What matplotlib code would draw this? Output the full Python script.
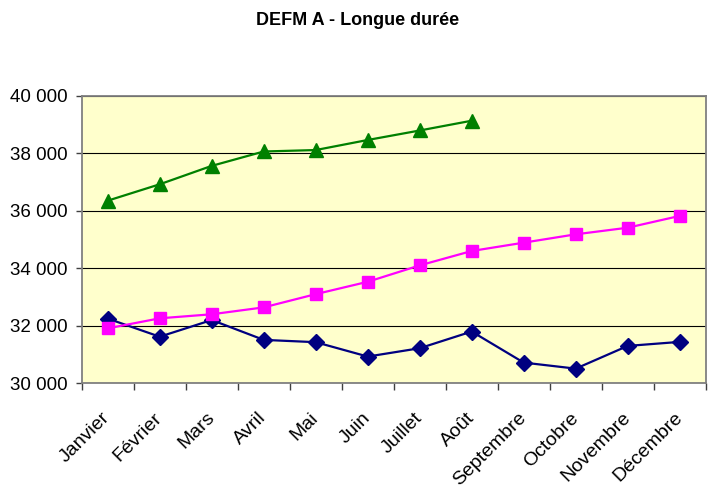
import numpy as np
import matplotlib.pyplot as plt
from matplotlib.ticker import FuncFormatter, FixedLocator

plt.rcParams['font.family'] = ['Liberation Sans', 'DejaVu Sans']

# Data
mois = ['Janvier', 'Février', 'Mars', 'Avril', 'Mai', 'Juin', 'Juillet',
        'Août', 'Septembre', 'Octobre', 'Novembre', 'Décembre']
serie_bleue = [32250, 31620, 32200, 31510, 31430, 30930, 31220,
               31800, 30720, 30510, 31300, 31440]
serie_rose = [31910, 32260, 32400, 32640, 33100, 33530, 34100,
              34600, 34890, 35180, 35410, 35820]
serie_verte = [36350, 36920, 37560, 38060, 38110, 38460, 38790, 39130]
y_ticks = [30000, 32000, 34000, 36000, 38000, 40000]

fig = plt.figure(figsize=(7.15, 4.93), dpi=100)
ax = fig.add_axes([0.1143, 0.2225, 0.8727, 0.5834])
ax.set_facecolor('#FFFFCC')

x = np.arange(len(mois))
ax.plot(x, serie_bleue, color='#000080', lw=1.6, marker='D', ms=8.5,
        zorder=3)
ax.plot(x, serie_rose, color='#FF00FF', lw=1.6, marker='s', ms=8.5,
        zorder=3)
ax.plot(x[:len(serie_verte)], serie_verte, color='#008000', lw=1.6,
        marker='^', ms=9.5, zorder=3)

ax.set_xlim(-0.5, len(mois) - 0.5)
ax.set_ylim(30000, 40000)
ax.set_yticks(y_ticks)
ax.yaxis.set_major_formatter(
    FuncFormatter(lambda v, p: f'{int(v):,}'.replace(',', ' ')))
ax.grid(axis='y', color='black', lw=0.8, zorder=1)
ax.set_axisbelow(True)

# category labels centred, tick marks between categories
ax.set_xticks(x)
ax.set_xticklabels(mois, rotation=45, ha='right', va='center',
                   rotation_mode='anchor', fontsize=14)
ax.xaxis.set_minor_locator(FixedLocator(np.arange(-0.5, len(mois), 1)))
ax.tick_params(axis='x', which='major', length=0, pad=23)
ax.tick_params(axis='x', which='minor', length=5, width=1, color='#404040')
ax.tick_params(axis='y', length=4, width=1, color='#404040', pad=6,
               labelsize=13.5)

for s in ax.spines.values():
    s.set_color('#808080')
    s.set_linewidth(1.3)

fig.text(0.5, 0.958, 'DEFM A - Longue durée', ha='center', va='center',
         fontsize=13, fontweight='bold')

fig.savefig('out.png', dpi=100)
